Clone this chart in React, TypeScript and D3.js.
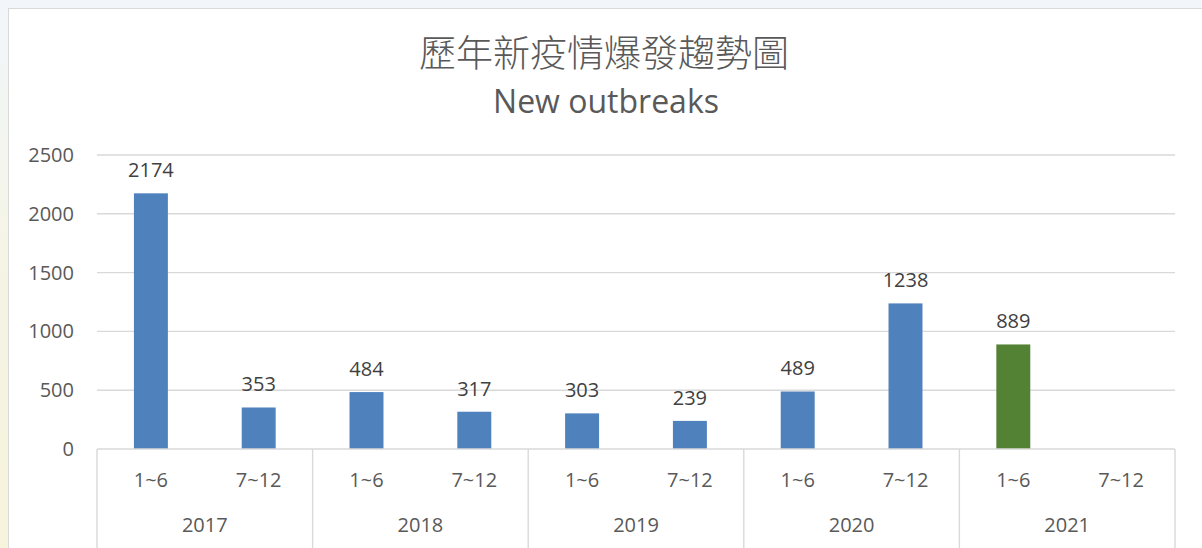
import React from "react";
import * as d3 from "d3";

const years = ["2017", "2018", "2019", "2020", "2021"];
const halves = ["1~6", "7~12"];
const values: (number | null)[] = [2174, 353, 484, 317, 303, 239, 489, 1238, 889, null];
const highlight = [false, false, false, false, false, false, false, false, true, false];
const yTicks = [0, 500, 1000, 1500, 2000, 2500];

const W = 1202;
const H = 548;
const left = 97;
const right = 1175;
const top = 155;
const bottom = 449;
const latin = "'Open Sans', 'Noto Sans', sans-serif";

export default function App() {
  const slots = d3.range(values.length);
  const x = d3.scaleBand<number>().domain(slots).range([left, right]).padding(0);
  const y = d3.scaleLinear().domain([0, 2500]).range([bottom, top]);
  const bw = x.bandwidth() * 0.315;
  const groupW = x.bandwidth() * 2;

  return (
    <svg width={W} height={H} style={{ position: "fixed", left: 0, top: 0 }}>
      <defs>
        <linearGradient id="lg" x1="0" y1="0" x2="0" y2="1">
          <stop offset="0" stopColor="#f2f6fa" />
          <stop offset="0.5" stopColor="#f5f4e4" />
          <stop offset="1" stopColor="#f7f3dc" />
        </linearGradient>
      </defs>
      <rect x={0} y={0} width={W} height={H} fill="#f2f6fa" />
      <rect x={0} y={8} width={8} height={H - 8} fill="url(#lg)" />
      <rect x={8.5} y={8.5} width={W} height={H} fill="#ffffff" stroke="#d9d9d9" strokeWidth={1} />

      <text x={604} y={67} textAnchor="middle" fontFamily="'Noto Sans CJK TC', sans-serif" fontWeight={300} fontSize={37} fill="#595959">
        歷年新疫情爆發趨勢圖
      </text>
      <text x={606} y={113} textAnchor="middle" fontFamily={latin} fontSize={32} fill="#595959">
        New outbreaks
      </text>

      {yTicks.map((t) => (
        <g key={t}>
          {t > 0 && <line x1={left} x2={right} y1={y(t)} y2={y(t)} stroke="#d9d9d9" strokeWidth={1.4} />}
          <text x={74} y={y(t)} dy="0.35em" textAnchor="end" fontFamily={latin} fontSize={20} fill="#595959">
            {t}
          </text>
        </g>
      ))}

      {values.map((v, i) =>
        v == null ? null : (
          <g key={i}>
            <rect
              x={(x(i) as number) + (x.bandwidth() - bw) / 2}
              y={y(v)}
              width={bw}
              height={y(0) - y(v)}
              fill={highlight[i] ? "#548235" : "#4f81bd"}
            />
            <text
              x={(x(i) as number) + x.bandwidth() / 2}
              y={y(v) - 16}
              textAnchor="middle"
              fontFamily={latin}
              fontSize={20}
              fill="#404040"
            >
              {v}
            </text>
          </g>
        )
      )}

      <line x1={left} x2={right} y1={bottom} y2={bottom} stroke="#d9d9d9" strokeWidth={1.4} />
      {d3.range(years.length + 1).map((g) => (
        <line key={g} x1={left + g * groupW} x2={left + g * groupW} y1={bottom} y2={H} stroke="#d9d9d9" strokeWidth={1.4} />
      ))}
      {slots.map((i) => (
        <text key={i} x={(x(i) as number) + x.bandwidth() / 2} y={487} textAnchor="middle" fontFamily={latin} fontSize={20} fill="#595959">
          {halves[i % 2]}
        </text>
      ))}
      {years.map((yr, g) => (
        <text key={yr} x={left + g * groupW + groupW / 2} y={532} textAnchor="middle" fontFamily={latin} fontSize={20} fill="#595959">
          {yr}
        </text>
      ))}
    </svg>
  );
}
